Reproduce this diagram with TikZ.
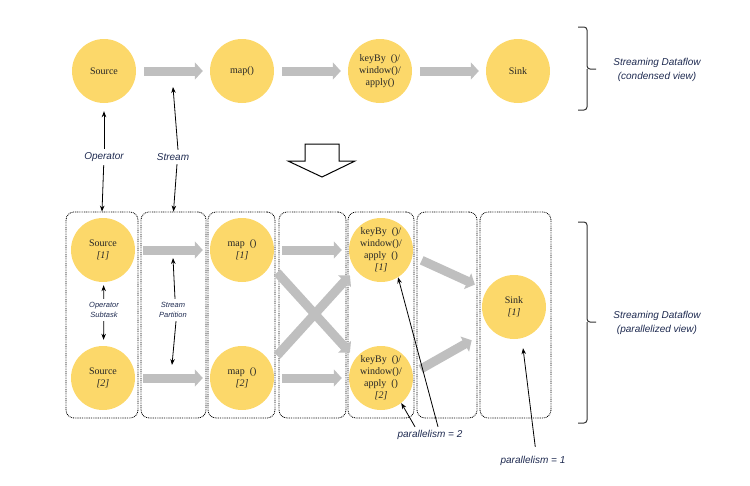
\documentclass[tikz,border=0pt]{standalone}
\usepackage{fontspec}
\setmainfont{Liberation Serif}
\setsansfont{Liberation Sans}
\usetikzlibrary{arrows.meta}
\definecolor{opyellow}{RGB}{252,216,106}
\definecolor{flowgray}{RGB}{191,191,191}
\definecolor{labelblue}{RGB}{30,42,80}

\begin{document}
\begin{tikzpicture}[x=1pt, y=-1pt, font=\fontsize{10}{12}\selectfont,
  op/.style={circle, fill=opyellow, minimum size=64pt, inner sep=0pt, align=center, text=black!85},
  col/.style={draw, dash pattern=on 0.9pt off 0.9pt, line width=0.8pt, rounded corners=8pt, minimum height=206pt, inner sep=0pt},
  flow/.style={-{Triangle[length=8pt,width=17pt]}, line width=9pt, draw=flowgray, shorten <=8pt, shorten >=7pt},
  lbl/.style={font=\sffamily\itshape\fontsize{10}{14}\selectfont, text=labelblue, align=center},
  small/.style={font=\sffamily\itshape\fontsize{7.5}{10}\selectfont, text=labelblue, align=center},
  brace/.style={line width=1pt, draw=black!80, rounded corners=3pt},
  pointer/.style={-{Stealth[length=6pt,width=4.5pt]}, line width=0.8pt}]
  \useasboundingbox (0,0) rectangle (750,485);

  % condensed view
  \node[op] (src) at (104,71) {Source};
  \node[op] (map) at (242,71) {map()};
  \node[op] (win) at (380,71) {keyBy\ \ ()/\\window()/\\apply()};
  \node[op] (snk) at (518,71) {Sink};
  \draw[flow] (src) -- (map);
  \draw[flow] (map) -- (win);
  \draw[flow] (win) -- (snk);
  \coordinate (strm) at (173,87);

  \draw[brace] (578,27) -- (587,27) -- (587,69) -- (596,69);
  \draw[brace] (587,69) -- (587,110) -- (578,110);
  \node[lbl] (cond) at (657,70) {Streaming Dataflow\\(condensed view)};

  \draw[line width=1pt] (305,144) -- (339,144) -- (339,161) -- (355,161) -- (322,177) -- (288,161) -- (305,161) -- cycle;

  % parallelized view
  \node[col, minimum width=72pt] (col1) at (102,315) {};
  \node[col, minimum width=65pt] (col2) at (173.5,315) {};
  \node[col, minimum width=67pt] (col3) at (241.5,315) {};
  \node[col, minimum width=67pt] (col4) at (312.5,315) {};
  \node[col, minimum width=66pt] (col5) at (381,315) {};
  \node[col, minimum width=60pt] (col6) at (447,315) {};
  \node[col, minimum width=71pt] (col7) at (515.5,315) {};

  \node[op] (src1) at (103,250) {Source\\\textit{[1]}};
  \node[op] (src2) at (103,378) {Source\\\textit{[2]}};
  \node[op] (map1) at (242,250) {map\ \ ()\\\textit{[1]}};
  \node[op] (map2) at (242,378) {map\ \ ()\\\textit{[2]}};
  \node[op] (win1) at (381,250) {keyBy\ \ ()/\\window()/\\apply\ \ ()\\\textit{[1]}};
  \node[op] (win2) at (381,378) {keyBy\ \ ()/\\window()/\\apply\ \ ()\\\textit{[2]}};
  \node[op] (snk1) at (514,307) {Sink\\\textit{[1]}};

  \draw[flow] (src1) -- (map1);
  \draw[flow] (src2) -- (map2);
  \draw[flow] (map1) -- (win1);
  \draw[flow] (map2) -- (win2);
  \draw[flow, shorten <=10pt, shorten >=8pt] (map1.-28) -- (win2.143);
  \draw[flow, shorten <=10pt, shorten >=8pt] (map2.28) -- (win1.-143);
  \draw[flow, shorten <=10pt, shorten >=13pt] (win1.-11) -- (snk1.148);
  \draw[flow, shorten <=9pt, shorten >=22pt] (win2.8) -- (snk1.224);

  \draw[brace] (578,222) -- (587,222) -- (587,322) -- (596,322);
  \draw[brace] (587,322) -- (587,423) -- (578,423);
  \node[lbl] (para) at (657,323) {Streaming Dataflow\\(parallelized view)};

  % labels and pointers
  \node[lbl] (oplbl) at (104,157) {Operator};
  \node[lbl] (stlbl) at (173,157) {Stream};
  \draw[pointer, shorten >=8pt] (oplbl) -- (src);
  \draw[pointer] (oplbl) -- (col1.north);
  \draw[pointer] ([xshift=5pt]stlbl.north) -- (strm);
  \draw[pointer] ([xshift=4pt]stlbl.south) -- (col2.north);

  \node[small] (subtask) at (104,310) {Operator\\Subtask};
  \node[small] (partition) at (173,310) {Stream\\Partition};
  \coordinate (part1) at (173,258);
  \coordinate (part2) at (172,365);
  \draw[pointer, shorten >=3pt] (subtask) -- (src1);
  \draw[pointer, shorten >=6pt] (subtask) -- (src2);
  \draw[pointer] ([xshift=2pt]partition.north) -- (part1);
  \draw[pointer] ([xshift=3pt]partition.south) -- (part2);

  \node[lbl] (par2) at (430,435) {parallelism = 2};
  \node[lbl] (par1) at (533,461) {parallelism = 1};
  \draw[pointer] ([xshift=-15pt]par2.north) -- (win2.-51);
  \draw[pointer] ([xshift=8pt]par2.north) -- (win1.-58);
  \draw[pointer, shorten <=6pt, shorten >=10pt] ([xshift=3pt]par1.north) -- (snk1.-76);
\end{tikzpicture}
\end{document}
